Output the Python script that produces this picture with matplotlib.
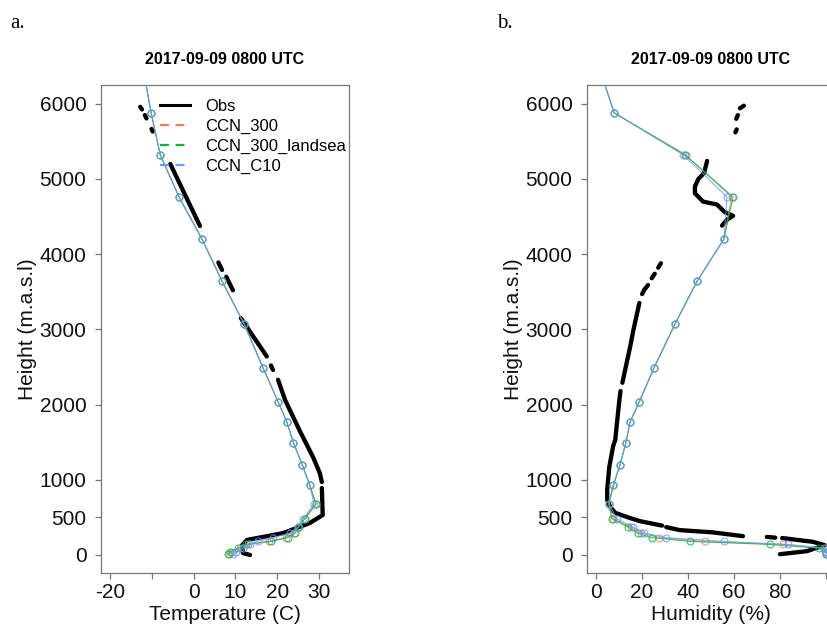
import numpy as np
import matplotlib.pyplot as plt

plt.rcParams['font.family'] = ['Liberation Sans', 'DejaVu Sans']

nan = np.nan

# model levels (m)
lev = [15, 45, 90, 140, 180, 230, 290, 370, 480, 680, 930, 1200, 1490, 1770,
       2040, 2490, 3070, 3640, 4200, 4760, 5320, 5880, 6440]

# temperature (C)
t_upper = [27.8, 26.0, 23.9, 22.3, 20.2, 16.6, 12.1, 6.8, 2.0, -3.5, -8.0, -10.2, -12.0]
t_300 = [8.5, 9.2, 11.0, 13.0, 18.0, 22.0, 24.0, 25.0, 26.6, 29.3] + t_upper
t_landsea = [8.3, 8.8, 10.5, 12.5, 18.5, 22.5, 24.3, 25.2, 26.6, 29.3] + t_upper
t_c10 = [9.5, 10.2, 11.8, 13.5, 15.3, 19.0, 23.0, 25.0, 26.2, 28.8] + t_upper

# relative humidity (%)
rh_upper = [7.5, 10.4, 12.9, 14.8, 18.8, 25.2, 34.3, 43.9, 55.6]
rh_300 = [100, 100, 99.0, 81.3, 47.4, 27.5, 19.5, 15.0, 7.5, 5.4] + rh_upper + [59.0, 39.0, 7.8, 1.8]
rh_landsea = [100, 100, 97.0, 75.6, 41.0, 24.2, 18.0, 14.0, 6.8, 5.4] + rh_upper + [59.6, 38.7, 7.8, 1.8]
rh_c10 = [100, 100, 100, 83.5, 55.7, 30.4, 21.0, 16.0, 9.0, 5.6] + rh_upper + [57.0, 38.0, 7.8, 1.8]

# radiosonde obs (nan = gap in the sounding)
obs_t_h = [5960, 5925, nan, 5850, 5805, nan, 5665, 5630, nan, 5200, 4375, nan,
           3890, 3790, nan, 3700, 3520, nan, 3150, 2640, nan, 2520, 2460, nan,
           2330, 2060, 1640, 1300, 1090, 970, nan, 890, 530, 425, 290, 200, 130, 25, 0]
obs_t = [-12.8, -12.4, nan, -11.7, -11.3, nan, -10.1, -9.8, nan, -5.6, 1.5, nan,
         5.9, 6.8, nan, 7.8, 9.4, nan, 11.3, 17.5, nan, 18.5, 19.0, nan,
         20.2, 21.9, 25.5, 28.6, 30.2, 30.7, nan, 30.7, 30.9, 27.8, 21.4, 12.8, 11.6, 11.8, 13.5]

obs_rh_h = [5975, 5940, nan, 5850, 5800, nan, 5660, 5620, nan,
            5240, 5080, 5000, 4900, 4810, 4700, 4660, 4560, 4510, 4460, 4380, nan,
            3880, 3820, nan, 3740, 3680, nan, 3590, 3530, 3470, nan,
            3350, 2990, 2770, 2460, 2290, nan, 2180, 2060, 1800, 1530, 1450, 1170,
            870, 730, 640, 560, 490, 450, 390, nan, 370, 330, 300, 250, nan,
            240, 230, nan, 225, 175, 130, 50, 10]
obs_rh = [64.3, 62.6, nan, 61.7, 61.0, nan, 61.2, 60.6, nan,
          48.3, 47.0, 44.5, 43.0, 43.0, 46.5, 52.6, 56.0, 59.6, 57.0, 54.8, nan,
          28.2, 27.0, nan, 25.5, 24.2, nan, 22.6, 21.0, 20.0, nan,
          18.8, 16.2, 14.8, 12.6, 11.4, nan, 10.6, 10.1, 9.2, 8.3, 7.4, 5.7,
          4.8, 4.8, 6.1, 8.3, 14.8, 19.0, 28.7, nan, 30.5, 36.5, 50.9, 63.9, nan,
          74.3, 78.0, nan, 81.0, 94.3, 99.5, 91.7, 80.0]

runs = ['CCN_300', 'CCN_300_landsea', 'CCN_C10']
cols = ['#F8766D', '#00BA38', '#619CFF']
frame = '#777777'

fig = plt.figure(figsize=(8.27, 6.26), dpi=100)
ax1 = fig.add_axes([101 / 827, 1 - 573 / 626, 248 / 827, 488 / 626])
ax2 = fig.add_axes([587 / 827, 1 - 573 / 626, 248 / 827, 488 / 626])


def panel(ax, ox, oh, series, xlab, xlim, xticks, xticklabs):
    ax.plot(ox, oh, color='black', lw=3.1, solid_capstyle='round', zorder=2)
    for vals, c in zip(series, cols):
        ax.plot(vals, lev, color=c, lw=0.8, alpha=0.8, marker='o', ms=5, mfc='none',
                mec=c, mew=0.8, zorder=3)
    ax.set_xlim(xlim)
    ax.set_ylim(-240, 6250)
    ax.set_xticks(xticks)
    ax.set_xticklabels(xticklabs)
    ax.set_yticks([0, 500, 1000, 2000, 3000, 4000, 5000, 6000])
    for s in ax.spines.values():
        s.set_color(frame)
        s.set_linewidth(0.9)
    ax.tick_params(axis='both', colors=frame, labelcolor='#111111', labelsize=15,
                   length=4.5, width=0.9, direction='out')
    ax.tick_params(axis='x', pad=3)
    ax.tick_params(axis='y', pad=6)
    ax.set_xlabel(xlab, fontsize=15, labelpad=2, color='#111111')
    ax.set_ylabel('Height (m.a.s.l)', fontsize=15, labelpad=2, color='#111111')
    ax.set_title('2017-09-09 0800 UTC', fontsize=11.5, fontweight='bold', pad=15)


panel(ax1, obs_t, obs_t_h, [t_300, t_landsea, t_c10], 'Temperature (C)',
      (-22.2, 37.2), [-20, -10, 0, 10, 20, 30], ['-20', '', '0', '10', '20', '30'])
panel(ax2, obs_rh, obs_rh_h, [rh_300, rh_landsea, rh_c10], 'Humidity (%)',
      (-4, 104), [0, 20, 40, 60, 80, 100], ['0', '20', '40', '60', '80', ''])

# legend on the temperature panel
h = [plt.Line2D([], [], color='black', lw=2.2)]
h += [plt.Line2D([], [], color=c, lw=1.6, ls=(0, (4, 3))) for c in cols]
ax1.legend(h, ['Obs'] + runs, loc='upper left', bbox_to_anchor=(0.237, 0.972),
           frameon=False, fontsize=12, handlelength=1.8, handletextpad=0.95,
           labelspacing=0.3, borderpad=0, borderaxespad=0)

fig.text(10 / 827, 1 - 28 / 626, 'a.', family='Liberation Serif', fontsize=15)
fig.text(497 / 827, 1 - 28 / 626, 'b.', family='Liberation Serif', fontsize=15)

fig.savefig('out.png', dpi=100)
